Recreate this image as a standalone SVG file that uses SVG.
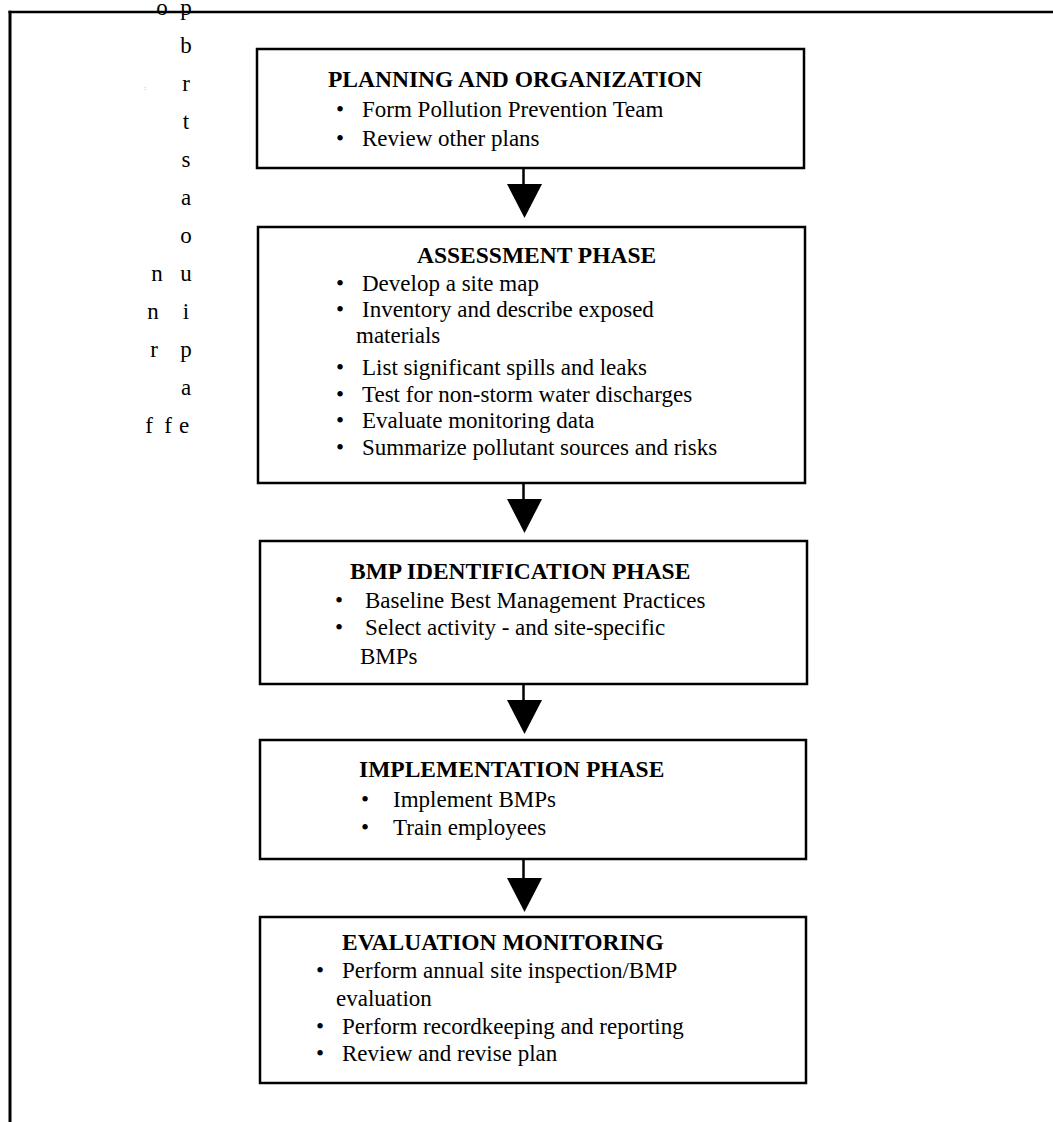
<svg xmlns="http://www.w3.org/2000/svg" width="1053" height="1122" viewBox="0 0 1053 1122">
<style>
  text { font-family: "Liberation Serif", "Times New Roman", serif; fill: #000; }
  .t { font-size: 23.5px; font-weight: bold; }
  .b { font-size: 23px; }
  .l { font-size: 23px; text-anchor: middle; }
  .box { fill: #fff; stroke: #000; stroke-width: 2.5; }
  .frame { stroke: #000; fill: none; }
  .conn line { stroke: #000; stroke-width: 2.5; }
  .conn polygon { fill: #000; }
</style>
<rect width="1053" height="1122" fill="#fff"/>
<g id="frame">
  <line class="frame" x1="8.5" y1="12" x2="1053" y2="12" stroke-width="2.5"/>
  <line class="frame" x1="10" y1="10.8" x2="10" y2="1122" stroke-width="3"/>
</g>
<g id="side-letters">
  <text class="l" x="162" y="15">o</text>
  <text class="l" x="186" y="15">p</text>
  <text class="l" x="186" y="53">b</text>
  <text x="144" y="90" style="font-size:7px;fill:#999">:</text>
  <text class="l" x="186" y="91">r</text>
  <text class="l" x="186" y="129">t</text>
  <text class="l" x="186" y="167">s</text>
  <text class="l" x="186" y="205">a</text>
  <text class="l" x="186" y="243">o</text>
  <text class="l" x="157" y="281">n</text>
  <text class="l" x="186" y="281">u</text>
  <text class="l" x="153" y="319">n</text>
  <text class="l" x="186" y="319">i</text>
  <text class="l" x="154" y="357">r</text>
  <text class="l" x="186" y="357">p</text>
  <text class="l" x="186" y="395">a</text>
  <text class="l" x="149" y="433">f</text>
  <text class="l" x="168" y="433">f</text>
  <text class="l" x="184" y="433">e</text>
</g>
<g id="connectors" class="conn">
  <line x1="523.5" y1="168" x2="523.5" y2="186"/>
  <polygon points="507,184 542,184 524.5,218"/>
  <line x1="523.5" y1="483" x2="523.5" y2="501"/>
  <polygon points="507,499 542,499 524.5,533"/>
  <line x1="523.5" y1="684" x2="523.5" y2="702"/>
  <polygon points="507,700 542,700 524.5,734"/>
  <line x1="523.5" y1="859" x2="523.5" y2="880"/>
  <polygon points="507,878 542,878 524.5,912"/>
</g>
<g id="planning">
  <rect class="box" x="257" y="49" width="547" height="119"/>
  <text class="t" x="328" y="87">PLANNING AND ORGANIZATION</text>
  <text class="b" x="336" y="117">•</text>
  <text class="b" x="362" y="117">Form Pollution Prevention Team</text>
  <text class="b" x="336" y="146">•</text>
  <text class="b" x="362" y="146">Review other plans</text>
</g>
<g id="assessment">
  <rect class="box" x="258" y="227" width="547" height="256"/>
  <text class="t" x="417" y="263">ASSESSMENT PHASE</text>
  <text class="b" x="336" y="291">•</text>
  <text class="b" x="362" y="291">Develop a site map</text>
  <text class="b" x="336" y="317">•</text>
  <text class="b" x="362" y="317">Inventory and describe exposed</text>
  <text class="b" x="356" y="343">materials</text>
  <text class="b" x="336" y="375">•</text>
  <text class="b" x="362" y="375">List significant spills and leaks</text>
  <text class="b" x="336" y="402">•</text>
  <text class="b" x="362" y="402">Test for non-storm water discharges</text>
  <text class="b" x="336" y="428">•</text>
  <text class="b" x="362" y="428">Evaluate monitoring data</text>
  <text class="b" x="336" y="455">•</text>
  <text class="b" x="362" y="455">Summarize pollutant sources and risks</text>
</g>
<g id="bmp">
  <rect class="box" x="260" y="541" width="547" height="143"/>
  <text class="t" x="350" y="579">BMP IDENTIFICATION PHASE</text>
  <text class="b" x="335" y="608">•</text>
  <text class="b" x="365" y="608">Baseline Best Management Practices</text>
  <text class="b" x="335" y="635">•</text>
  <text class="b" x="365" y="635">Select activity - and site-specific</text>
  <text class="b" x="360" y="664">BMPs</text>
</g>
<g id="implementation">
  <rect class="box" x="260" y="740" width="546" height="119"/>
  <text class="t" x="359" y="777">IMPLEMENTATION PHASE</text>
  <text class="b" x="361" y="807">•</text>
  <text class="b" x="393" y="807">Implement BMPs</text>
  <text class="b" x="361" y="835">•</text>
  <text class="b" x="393" y="835">Train employees</text>
</g>
<g id="evaluation">
  <rect class="box" x="260" y="917" width="546" height="166"/>
  <text class="t" x="342" y="950">EVALUATION MONITORING</text>
  <text class="b" x="316" y="978">•</text>
  <text class="b" x="342" y="978">Perform annual site inspection/BMP</text>
  <text class="b" x="336" y="1006">evaluation</text>
  <text class="b" x="316" y="1034">•</text>
  <text class="b" x="342" y="1034">Perform recordkeeping and reporting</text>
  <text class="b" x="316" y="1061">•</text>
  <text class="b" x="342" y="1061">Review and revise plan</text>
</g>
</svg>
